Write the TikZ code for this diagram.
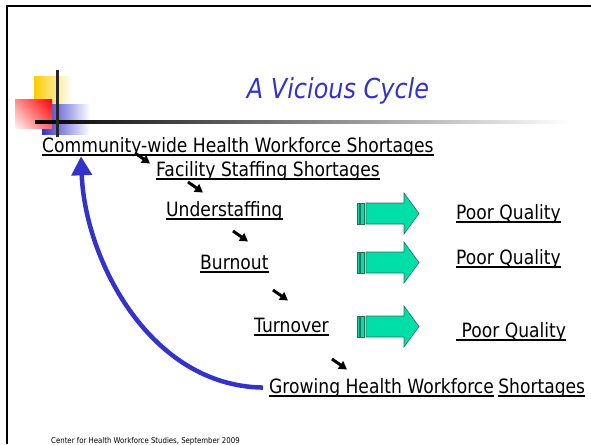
\documentclass[tikz,border=0pt]{standalone}
\usepackage{fontspec}
\setmainfont{DejaVu Sans}[FakeStretch=0.87]
\usepackage{xcolor}
\usetikzlibrary{arrows.meta, positioning, shadings}

\definecolor{titleblue}{HTML}{3333CC}
\definecolor{mint}{HTML}{00DFA8}
\definecolor{mintline}{HTML}{2F6B5A}
\definecolor{sqyellow}{HTML}{FFCC00}
\definecolor{sqred}{HTML}{FF0000}

\tikzset{
  cause/.style={anchor=base west, inner sep=0pt, font=\fontsize{19.7}{22}\selectfont},
  uline/.style={line width=1.6pt},
  stepdown/.style={line width=3pt, -{Triangle[length=8pt,width=9pt]}},
  loopback/.style={titleblue, line width=4.5pt, -{Triangle[length=19pt,width=20pt]}},
  fatarrow/.style={fill=mint, draw=mintline, line width=0.6pt},
}

\begin{document}
\begin{tikzpicture}[x=1pt, y=-1pt]
\useasboundingbox (0,0) rectangle (591,444);

% slide frame
\draw[line width=2.2pt] (7.3,444) -- (7.3,6.3) -- (591,6.3);

% corner squares and rules
\shade[left color=sqyellow, middle color=sqyellow, right color=white] (34,76) rectangle (72,110);
\shade[left color=titleblue, middle color=titleblue, right color=white] (42,104) rectangle (90,134);
\shade[upper right=sqred, upper left=sqred!45, lower right=sqred!60, lower left=sqred!5] (15,99) rectangle (52,128);
\shade[left color=black, right color=white] (35,120.5) rectangle (570,123.5);
\fill[black!85] (56,70) rectangle (59,137);

% title
\node[anchor=base, inner sep=0pt, titleblue, font=\fontsize{27.5}{32}\selectfont\itshape] (title) at (338,98) {A Vicious Cycle};

% chain of causes
\node[cause] (comm) at (42,152) {Community-wide Health Workforce Shortages};
\node[cause] (fac) at (156,176) {Facility Staffing Shortages};
\node[cause] (under) at (166,216) {Understaffing};
\node[cause] (burn) at (200,269) {Burnout};
\node[cause] (turn) at (254,332) {Turnover};
\node[cause] (grow) at (269,393) {Growing Health Workforce};
\node[cause, base right=4pt of grow] (short) {Shortages};

% outcomes
\node[cause] (pq1) at (456,219) {Poor Quality};
\node[cause] (pq2) at (456,264) {Poor Quality};
\node[cause] (pq3) at (456,337) {\ Poor Quality};

\foreach \n in {comm,fac,under,burn,turn,grow,short,pq1,pq2,pq3}
  \draw[uline] ([yshift=-3pt]\n.base west) -- ([yshift=-3pt]\n.base east);

% small arrows down the chain
\foreach \i/\x/\y in {1/135/153, 2/188/182, 3/233/231, 4/273/290, 5/332/359} {
  \path (\x,\y) coordinate (s\i) ++(15,10.5) coordinate (t\i);
  \draw[stepdown] (s\i) -- (t\i);
}

% block arrows towards the outcomes
\foreach \c in {213.5,262.5,326.5} {
  \filldraw[fatarrow] (357,\c-10.5) rectangle (359.5,\c+10.5);
  \filldraw[fatarrow] (360.5,\c-10.5) rectangle (364.5,\c+10.5);
  \filldraw[fatarrow] (366,\c-10.5) -- (404,\c-10.5) -- (404,\c-20.5) -- (419,\c)
    -- (404,\c+20.5) -- (404,\c+10.5) -- (366,\c+10.5) -- cycle;
}

% loop back to the top
\draw[loopback] ([xshift=-6pt]grow.west) .. controls (150,386) and (85,260) .. ([xshift=39pt]comm.south west);

% footer
\node[anchor=base west, inner sep=0pt, font=\fontsize{8}{9.6}\selectfont] (foot) at (51,443) {Center for Health Workforce Studies, September 2009};
\end{tikzpicture}
\end{document}
